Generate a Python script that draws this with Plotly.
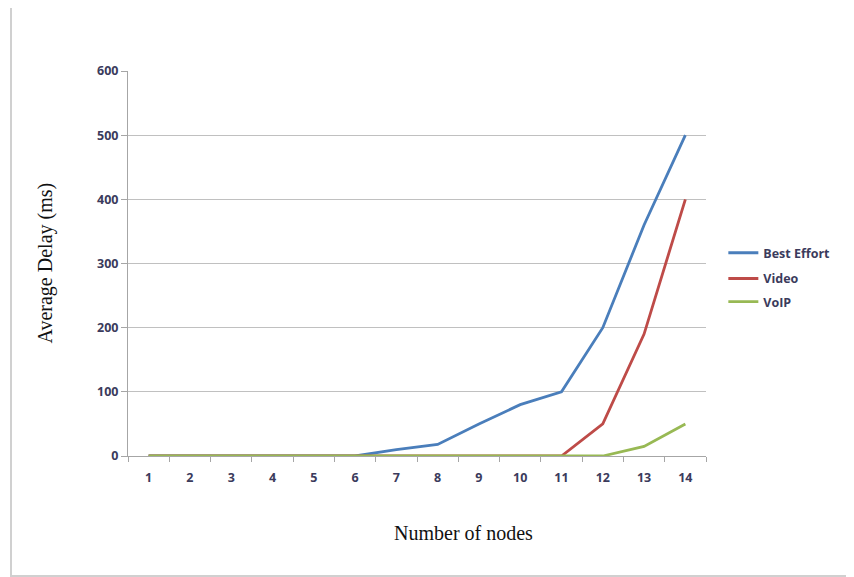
import plotly.graph_objects as go

nodes = [1, 2, 3, 4, 5, 6, 7, 8, 9, 10, 11, 12, 13, 14]
best_effort = [0, 0, 0, 0, 0, 0, 10, 18, 50, 80, 100, 200, 360, 500]
video = [0, 0, 0, 0, 0, 0, 0, 0, 0, 0, 0, 50, 190, 400]
voip = [0, 0, 0, 0, 0, 0, 0, 0, 0, 0, 0, 0, 15, 50]
y_ticks = [0, 100, 200, 300, 400, 500, 600]

series = [
    ("Best Effort", best_effort, "#4a7ebb", "legend", 0.527),
    ("Video", video, "#be4b48", "legend2", 0.460),
    ("VoIP", voip, "#98b954", "legend3", 0.400),
]

tick_font = dict(family="Open Sans, Arial, sans-serif", size=12.5, color="#3b3b5c", weight=700)

fig = go.Figure()
legends = {}
for name, vals, col, lg, ly in series:
    fig.add_trace(go.Scatter(x=nodes, y=vals, mode="lines", name=name, legend=lg,
                             line=dict(color=col, width=2.8)))
    legends[lg] = dict(x=1.03, y=ly, xanchor="left", yanchor="middle",
                       font=tick_font, itemwidth=30, bgcolor="rgba(0,0,0,0)")

fig.update_layout(
    width=854, height=577,
    margin=dict(l=120, r=156, t=63, b=129),
    plot_bgcolor="white", paper_bgcolor="white",
    showlegend=True,
    xaxis=dict(range=[0.5, 14.5], tickvals=nodes, ticktext=[str(n) for n in nodes],
               ticks="", showgrid=False, zeroline=False,
               showline=True, linecolor="#a6a6a6", linewidth=1,
               tickfont=tick_font, ticklabelstandoff=10,
               minor=dict(tickvals=[n - 0.5 for n in nodes] + [14.5], ticks="outside",
                          ticklen=5, tickcolor="#a6a6a6", showgrid=False)),
    yaxis=dict(range=[0, 600], tickvals=y_ticks, ticks="outside", ticklen=6,
               tickcolor="#a6a6a6", showgrid=True, gridcolor="#c0c0c0", gridwidth=1,
               zeroline=False, showline=True, linecolor="#a6a6a6", linewidth=1,
               tickfont=tick_font),
    annotations=[
        dict(text="Average Delay (ms)", xref="paper", yref="paper", x=0, y=0.5,
             xshift=-83, textangle=-90, showarrow=False, xanchor="center", yanchor="middle",
             font=dict(family="Liberation Serif, Times New Roman, serif", size=20, color="#111111")),
        dict(text="Number of nodes", xref="paper", yref="paper", x=0.58, y=0,
             yshift=-77, showarrow=False, xanchor="center", yanchor="middle",
             font=dict(family="Liberation Serif, Times New Roman, serif", size=20, color="#111111")),
    ],
    shapes=[
        dict(type="rect", xref="paper", yref="paper", x0=-0.2024, x1=1.35,
             y0=-0.3117, y1=1.1662, line=dict(color="#d0d0d0", width=2), layer="below"),
    ],
    **legends,
)

fig.write_html("out.html")
